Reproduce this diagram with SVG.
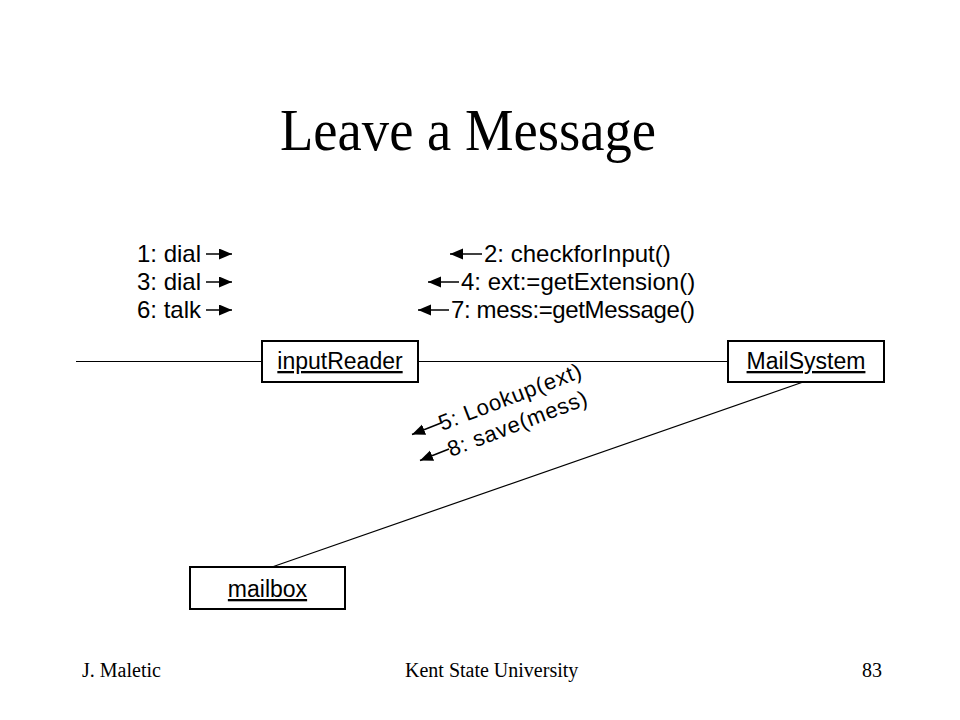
<svg xmlns="http://www.w3.org/2000/svg" width="960" height="720" viewBox="0 0 960 720">
<style>
.title{font-family:"Liberation Serif","Times New Roman",serif;font-size:60px;fill:#000}
.foot{font-family:"Liberation Serif","Times New Roman",serif;font-size:20px;fill:#000}
.lbl{font-family:"Liberation Sans",Arial,sans-serif;font-size:24px;fill:#000}
.rot{font-family:"Liberation Sans",Arial,sans-serif;font-size:22px;letter-spacing:0.8px;fill:#000}
.obj{font-family:"Liberation Sans",Arial,sans-serif;font-size:23px;fill:#000;text-anchor:middle;text-decoration:underline}
.box{fill:#fff;stroke:#000;stroke-width:2}
.ln{stroke:#000;stroke-width:1.2;fill:none}
.ar{stroke:#000;stroke-width:1.5;fill:none;marker-end:url(#tri)}
</style>
<defs>
<marker id="tri" markerUnits="userSpaceOnUse" markerWidth="14" markerHeight="12" refX="13" refY="5.5" orient="auto">
<path d="M0,0 L13,5.5 L0,11 Z" fill="#000"/>
</marker>
</defs>
<rect width="960" height="720" fill="#fff"/>
<text class="title" x="280" y="150" textLength="376" lengthAdjust="spacingAndGlyphs">Leave a Message</text>

<g id="connectors">
<line class="ln" x1="76" y1="361.5" x2="262" y2="361.5"/>
<line class="ln" x1="418" y1="361.5" x2="728" y2="361.5"/>
<line class="ln" x1="806" y1="381" x2="272" y2="567"/>
</g>

<g id="messages">
<text class="lbl" x="137" y="262">1: dial</text>
<line class="ar" x1="206" y1="254" x2="232" y2="254"/>
<text class="lbl" x="137" y="290">3: dial</text>
<line class="ar" x1="206" y1="282" x2="232" y2="282"/>
<text class="lbl" x="137" y="318">6: talk</text>
<line class="ar" x1="206" y1="310" x2="232" y2="310"/>

<text class="lbl" x="484" y="262">2: checkforInput()</text>
<line class="ar" x1="482" y1="254" x2="450" y2="254"/>
<text class="lbl" x="461" y="290">4: ext:=getExtension()</text>
<line class="ar" x1="459" y1="282" x2="428" y2="282"/>
<text class="lbl" x="451" y="318" textLength="244" lengthAdjust="spacing">7: mess:=getMessage()</text>
<line class="ar" x1="449" y1="310" x2="418" y2="310"/>

<text class="rot" transform="translate(442,431) rotate(-21)">5: Lookup(ext)</text>
<line class="ar" x1="441" y1="423" x2="412" y2="434.5"/>
<text class="rot" transform="translate(451,457) rotate(-21)">8: save(mess)</text>
<line class="ar" x1="449" y1="449" x2="420" y2="460.5"/>
</g>

<g id="inputReader">
<rect class="box" x="262" y="341" width="156" height="41"/>
<text class="obj" x="340" y="369">inputReader</text>
</g>
<g id="MailSystem">
<rect class="box" x="728" y="341" width="156" height="41"/>
<text class="obj" x="806" y="369">MailSystem</text>
</g>
<g id="mailbox">
<rect class="box" x="190" y="567" width="155" height="42"/>
<text class="obj" x="267.5" y="597">mailbox</text>
</g>

<text class="foot" x="82" y="677">J. Maletic</text>
<text class="foot" x="405" y="677">Kent State University</text>
<text class="foot" x="862" y="677">83</text>
</svg>
